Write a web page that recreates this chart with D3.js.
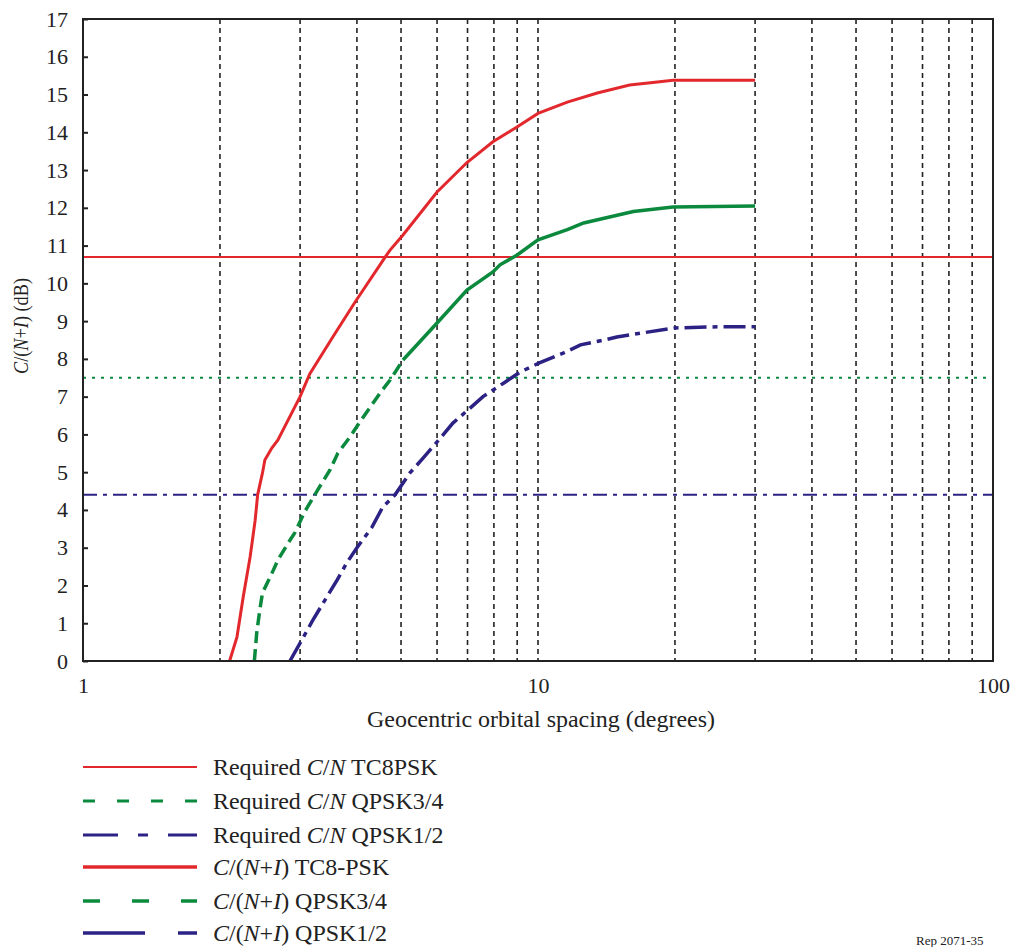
<!DOCTYPE html>
<html><head><meta charset="utf-8">
<script src="https://cdn.jsdelivr.net/npm/d3@7/dist/d3.min.js"></script>
<style>
body{margin:0;background:#fff;}
text{font-family:"Liberation Serif","Times New Roman",serif;fill:#222;}
</style></head>
<body><svg id="c" width="1014" height="947"></svg>
<script>
// ---- data ----
const yTicks = [0,1,2,3,4,5,6,7,8,9,10,11,12,13,14,15,16,17];
const xTickLabels = [1,10,100];
const xGrid = [2,3,4,5,6,7,8,9,10,20,30,40,50,60,70,80,90];

const reqTC8PSK = 10.7;
const reqQPSK34 = 7.5;
const reqQPSK12 = 4.4;

const redX = [2.1,2.18,2.25,2.33,2.39,2.42,2.48,2.51,2.6,2.68,3.0,3.15,3.54,3.96,4.63,4.73,5.05,6.0,6.98,7.96,8.99,10,11.6,13.5,15.9,18.3,19.8,30];
const redY = [0,0.64,1.7,2.76,3.73,4.4,4.98,5.32,5.64,5.85,7.0,7.6,8.58,9.5,10.72,10.88,11.28,12.42,13.2,13.75,14.14,14.5,14.8,15.04,15.25,15.33,15.38,15.38];

const greenX = [2.38,2.41,2.45,2.48,2.61,2.68,2.85,2.92,3.07,3.28,3.49,3.63,3.86,4.06,4.5,4.73,5.05,6.0,6.98,7.96,8.25,9.0,10,11.6,12.6,16.2,19.8,30];
const greenY = [0,0.77,1.4,1.8,2.36,2.67,3.2,3.39,3.95,4.53,5.06,5.5,5.93,6.33,7.1,7.44,7.97,8.95,9.82,10.3,10.49,10.75,11.15,11.42,11.6,11.9,12.02,12.05];

const blueX = [2.85,3.04,3.2,3.37,3.62,3.8,4.0,4.32,4.56,4.85,5.23,5.59,6.0,6.5,7.02,7.57,8.38,9.13,10.1,11.35,12.4,14.0,14.9,17.0,20,25,30];
const blueY = [0,0.6,1.08,1.53,2.15,2.6,3.0,3.55,4.08,4.4,4.98,5.37,5.8,6.3,6.65,7.0,7.35,7.65,7.9,8.15,8.37,8.5,8.58,8.69,8.82,8.85,8.85];

const legendLabels = [
  [["Required ",0],["C",1],["/",0],["N",1],[" TC8PSK",0]],
  [["Required ",0],["C",1],["/",0],["N",1],[" QPSK3/4",0]],
  [["Required ",0],["C",1],["/",0],["N",1],[" QPSK1/2",0]],
  [["C",1],["/(",0],["N",1],["+",0],["I",1],[") TC8-PSK",0]],
  [["C",1],["/(",0],["N",1],["+",0],["I",1],[") QPSK3/4",0]],
  [["C",1],["/(",0],["N",1],["+",0],["I",1],[") QPSK1/2",0]]
];

// ---- styles ----
const RED="#e2282c", GREEN="#0b8a3e", BLUE="#2b2284";
const WIDEN = 1.065;

const svg = d3.select("#c");
const L=83,R=993,T=19,B=661;
const x = d3.scaleLog().domain([1,100]).range([L,R]);
const y = d3.scaleLinear().domain([0,17]).range([B,T]);

function widen(sel, f){
  sel.each(function(){
    const w = this.getComputedTextLength();
    d3.select(this).attr("textLength", w*f).attr("lengthAdjust","spacingAndGlyphs");
  });
}

// grid
svg.append("g").selectAll("line").data(xGrid).join("line")
  .attr("x1",d=>x(d)).attr("x2",d=>x(d)).attr("y1",T).attr("y2",B)
  .attr("stroke","#222").attr("stroke-width",1.6).attr("stroke-dasharray","5,4");

// reference lines
const refs = [
  {v:reqTC8PSK,c:RED,w:2,da:null},
  {v:reqQPSK34,c:GREEN,w:2,da:"3,6"},
  {v:reqQPSK12,c:BLUE,w:2,da:"14,6,4,6"}
];
svg.append("g").selectAll("line").data(refs).join("line")
  .attr("x1",L).attr("x2",R).attr("y1",d=>y(d.v)).attr("y2",d=>y(d.v))
  .attr("stroke",d=>d.c).attr("stroke-width",d=>d.w).attr("stroke-dasharray",d=>d.da);

// curves
const line = d3.line().x(d=>x(d[0])).y(d=>y(d[1]));
const pts = (xs,ys)=>xs.map((v,i)=>[v,ys[i]]);
const redPts = pts(redX,redY), greenPts = pts(greenX,greenY), bluePts = pts(blueX,blueY);
const curves = [
  {d:redPts,c:RED,w:3,da:null},
  {d:greenPts.filter(p=>p[0]<=5.05),c:GREEN,w:3.5,da:"12,6"},
  {d:greenPts.filter(p=>p[0]>=5.05),c:GREEN,w:3.5,da:null},
  {d:bluePts,c:BLUE,w:3.5,da:"22,6,5,6"}
];
curves.forEach(cv=>{
  svg.append("path").datum(cv.d)
    .attr("d",line).attr("fill","none").attr("stroke",cv.c)
    .attr("stroke-width",cv.w).attr("stroke-dasharray",cv.da);
});

// axes
const yAxis = d3.axisLeft(y).tickValues(yTicks).tickSize(-5).tickPadding(15).tickFormat(d3.format("d"));
const gy = svg.append("g").attr("transform",`translate(${L},0)`).call(yAxis);
gy.select(".domain").remove();
gy.selectAll("line").attr("stroke","#222").attr("stroke-width",2);
gy.selectAll("text").attr("font-size",22).attr("font-family","Liberation Serif").attr("fill","#222");

const xAxis = d3.axisBottom(x).tickValues(xTickLabels).tickSize(0).tickPadding(16).tickFormat(d3.format("d"));
const gx = svg.append("g").attr("transform",`translate(0,${B})`).call(xAxis);
gx.select(".domain").remove();
gx.selectAll("text").attr("font-size",22).attr("font-family","Liberation Serif").attr("fill","#222");

// frame
svg.append("rect").attr("x",L).attr("y",T).attr("width",R-L).attr("height",B-T)
  .attr("fill","none").attr("stroke","#222").attr("stroke-width",2);

// axis titles
const xt = svg.append("text").attr("x",541).attr("y",727).attr("text-anchor","middle")
  .attr("font-size",22.5).text("Geocentric orbital spacing (degrees)");
widen(xt, WIDEN);

const yl = svg.append("text").attr("transform","translate(28,326) rotate(-90)")
  .attr("text-anchor","middle").attr("font-size",21);
[["C",1],["/(",0],["N",1],["+",0],["I",1],[") (dB)",0]].forEach(p=>{
  yl.append("tspan").attr("font-style",p[1]?"italic":"normal").text(p[0]);
});
yl.attr("textLength",96).attr("lengthAdjust","spacingAndGlyphs");

// legend
const legStyles = [
  {c:RED,w:2.2,da:null},
  {c:GREEN,w:3,da:"12,22"},
  {c:BLUE,w:3,da:"35,20,10,20"},
  {c:RED,w:3.5,da:null},
  {c:GREEN,w:3.5,da:"17,32"},
  {c:BLUE,w:3.5,da:"62,33"}
];
const legY = [767,801,835,867,901,933];
legStyles.forEach((s,i)=>{
  svg.append("line").attr("x1",83).attr("x2",197).attr("y1",legY[i]).attr("y2",legY[i])
    .attr("stroke",s.c).attr("stroke-width",s.w).attr("stroke-dasharray",s.da);
  const t = svg.append("text").attr("x",213).attr("y",legY[i]+8).attr("font-size",22.5);
  legendLabels[i].forEach(p=>{
    t.append("tspan").attr("font-style",p[1]?"italic":"normal").text(p[0]);
  });
  widen(t, WIDEN);
});

svg.append("text").attr("x",916).attr("y",945).attr("font-size",13).text("Rep 2071-35");
</script></body></html>
